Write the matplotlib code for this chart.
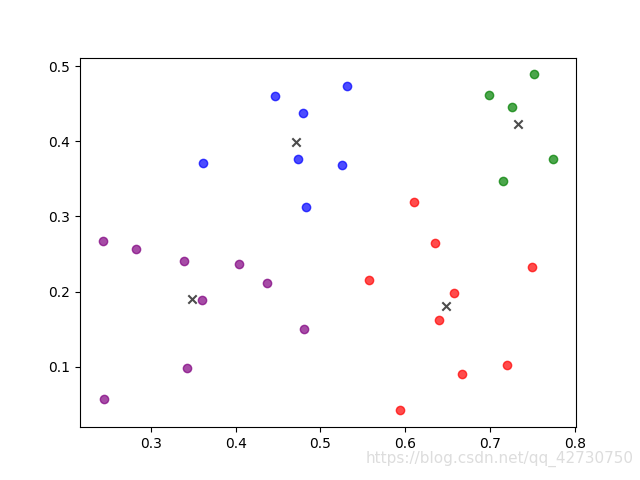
import matplotlib
matplotlib.use("Agg")
import matplotlib.pyplot as plt

blue_x = [0.446, 0.479, 0.532, 0.361, 0.474, 0.526, 0.483]
blue_y = [0.460, 0.438, 0.473, 0.371, 0.376, 0.368, 0.312]
green_x = [0.699, 0.726, 0.752, 0.715, 0.775]
green_y = [0.461, 0.446, 0.489, 0.347, 0.377]
red_x = [0.610, 0.635, 0.557, 0.658, 0.640, 0.750, 0.667, 0.720, 0.594]
red_y = [0.319, 0.265, 0.215, 0.198, 0.162, 0.233, 0.091, 0.103, 0.042]
purple_x = [0.243, 0.282, 0.339, 0.404, 0.437, 0.360, 0.481, 0.343, 0.245]
purple_y = [0.268, 0.257, 0.241, 0.237, 0.211, 0.189, 0.150, 0.099, 0.057]
center_x = [0.471, 0.733, 0.648, 0.348]
center_y = [0.399, 0.423, 0.181, 0.190]

fig = plt.figure(figsize=(6.4, 4.8), dpi=100)
for xs, ys, c in [(blue_x, blue_y, "blue"), (green_x, green_y, "green"),
                  (red_x, red_y, "red"), (purple_x, purple_y, "purple")]:
    plt.scatter(xs, ys, c=c, alpha=0.7)
plt.scatter(center_x, center_y, c="black", marker="x", alpha=0.7)
fig.text(0.99, 0.035, "https://blog.csdn.net/qq_42730750", ha="right",
         color="#dddddd", fontsize=11)
plt.savefig("out.png")
